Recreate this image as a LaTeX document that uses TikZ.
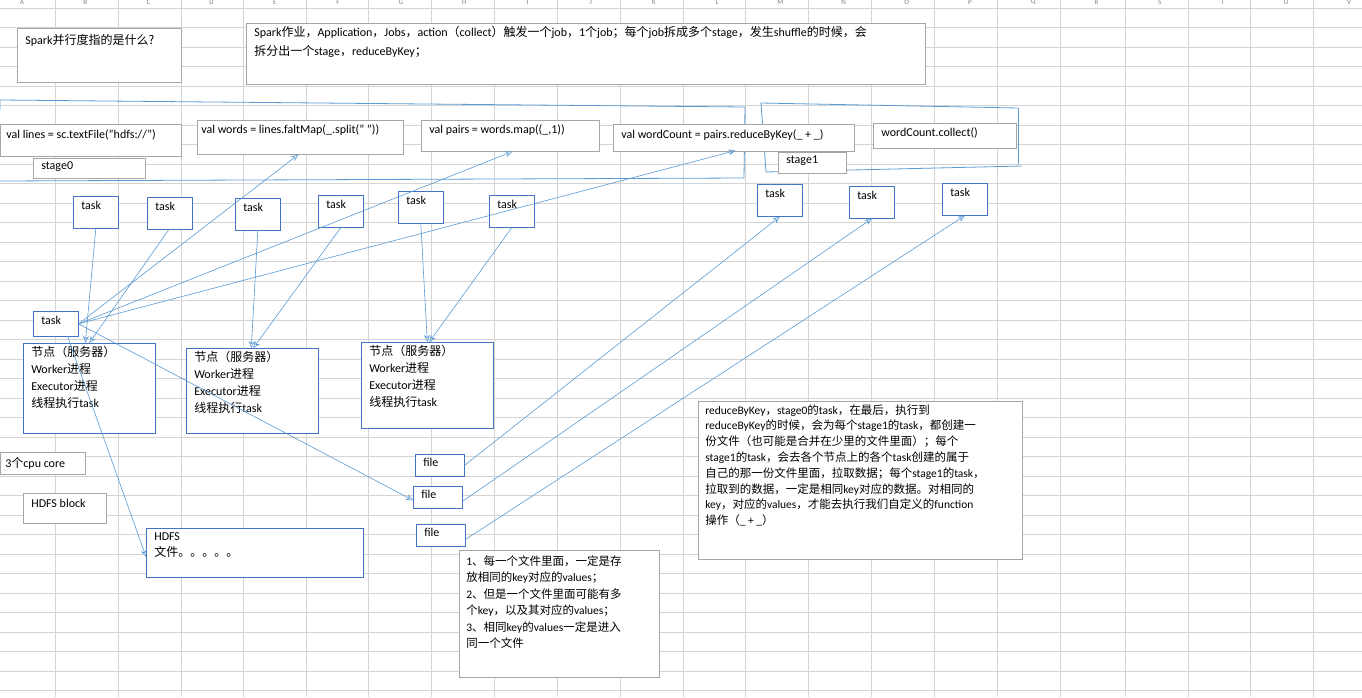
\documentclass[tikz,border=0pt]{standalone}
\usepackage{fontspec}
\setmainfont{Carlito}
\newfontfamily\cjk{Noto Sans CJK SC}
\usetikzlibrary{arrows.meta}
\definecolor{gridgray}{HTML}{D4D4D4}
\definecolor{boxgray}{HTML}{A6A6A6}
\definecolor{boxblue}{HTML}{4472C4}
\definecolor{linkblue}{HTML}{5B9BD5}
\tikzset{
  gbox/.style={draw=boxgray,fill=white,rectangle,anchor=north west,inner sep=0pt},
  bbox/.style={draw=boxblue,fill=white,rectangle,anchor=north west,inner sep=0pt},
  txt/.style={anchor=north west,inner sep=0pt,align=left,font=\fontsize{12}{15}\selectfont},
  link/.style={draw=linkblue,-{Stealth[open,length=7pt,width=6pt]}},
  bracket/.style={draw=linkblue,line width=0.8pt}
}
\begin{document}
\begin{tikzpicture}[x=1pt,y=-1pt,line width=0.6pt]
\useasboundingbox (0,0) rectangle (1362,697);
\fill[white] (0,0) rectangle (1362,697);

% sheet grid
\foreach \y in {8,27.5,...,697} \draw[gridgray,line width=0.5pt] (0,\y) -- (1362,\y);
\foreach \x in {55,118,181,243,306,368,431,494,557,620,683,745,808,871,934,997,1060,1125,1188,1250,1313}
  \draw[gridgray,line width=0.5pt] (\x,0) -- (\x,697);
\foreach \c [count=\i from 0] in {A,B,C,D,E,F,G,H,I,J,K,L,M,N,O,P,Q,R,S,T,U,V}
  \node[font=\fontsize{7}{7}\selectfont,gray,inner sep=0pt] (col\c) at (22+\i*63.2,2) {\c};

% stage brackets
\draw[bracket] (0,110) -- (0,100) -- (745,107) -- (744,178) -- (0,181);
\draw[bracket] (1018,108) -- (761,103) -- (766,172) -- (1022,166);
\draw[bracket] (1018,108) -- (1018,164);

% text boxes
\node[gbox,minimum width=164,minimum height=54] (q) at (17,28) {};
\node[txt] at ([shift={(8,6)}]q.north west) {Spark{\cjk 并行度指的是什么?}};
\node[gbox,minimum width=679,minimum height=61] (job) at (246,23) {};
\node[txt,font=\fontsize{12}{19}\selectfont] at ([shift={(8,3)}]job.north west) {Spark{\cjk 作业，}Application{\cjk ，}Jobs{\cjk ，}action{\cjk （}collect{\cjk ）触发一个}job{\cjk ，}1{\cjk 个}job{\cjk ；每个}job{\cjk 拆成多个}stage{\cjk ，发生}shuffle{\cjk 的时候，会}\\{\cjk 拆分出一个}stage{\cjk ，}reduceByKey{\cjk ；}};

\node[gbox,minimum width=181,minimum height=32] (lines) at (0,124) {};
\node[txt] at ([shift={(6,5)}]lines.north west) {val lines = sc.textFile("hdfs://")};
\node[gbox,minimum width=206,minimum height=34] (words) at (197,120) {};
\node[txt] at ([shift={(4,4)}]words.north west) {val words = lines.faltMap(\_.split(" "))};
\node[gbox,minimum width=178,minimum height=31] (pairs) at (421,120) {};
\node[txt] at ([shift={(8,4)}]pairs.north west) {val pairs = words.map((\_,1))};
\node[gbox,minimum width=241,minimum height=27] (wcount) at (613,124) {};
\node[txt] at ([shift={(8,5)}]wcount.north west) {val wordCount = pairs.reduceByKey(\_ + \_)};
\node[gbox,minimum width=143,minimum height=25] (collect) at (873,123) {};
\node[txt] at ([shift={(8,4)}]collect.north west) {wordCount.collect()};
\node[gbox,minimum width=112,minimum height=20] (stage0) at (33,158) {};
\node[txt] at ([shift={(8,3)}]stage0.north west) {stage0};
\node[gbox,minimum width=68,minimum height=21] (stage1) at (778,152) {};
\node[txt] at ([shift={(8,3)}]stage1.north west) {stage1};

% tasks of stage0
\foreach \n/\x/\y in {ta/73/196,tb/147/197,tc/235/198,td/318/195,te/398/191,tf/489/195}{
  \node[bbox,minimum width=45,minimum height=32] (\n) at (\x,\y) {};
  \node[txt] at ([shift={(8,5)}]\n.north west) {task};
}
\node[bbox,minimum width=45,minimum height=25] (tmain) at (33,311) {};
\node[txt] at ([shift={(8,5)}]tmain.north west) {task};

% tasks of stage1
\foreach \n/\x/\y in {sa/757/184,sb/849/186,sc/942/183}{
  \node[bbox,minimum width=45,minimum height=32] (\n) at (\x,\y) {};
  \node[txt] at ([shift={(8,5)}]\n.north west) {task};
}

% worker nodes
\foreach \n/\x/\y/\h in {wa/23/343/90,wb/186/348/85,wc/361/342/86}{
  \node[bbox,minimum width=132,minimum height=\h] (\n) at (\x,\y) {};
  \node[txt,font=\fontsize{12}{17}\selectfont] at ([shift={(8,3)}]\n.north west)
    {{\cjk 节点（服务器）}\\Worker{\cjk 进程}\\Executor{\cjk 进程}\\{\cjk 线程执行}task};
}

\node[gbox,minimum width=85,minimum height=22] (cpu) at (0,452) {};
\node[txt] at ([shift={(5,5)}]cpu.north west) {3{\cjk 个}cpu core};
\node[gbox,minimum width=83,minimum height=30] (block) at (23,493) {};
\node[txt] at ([shift={(8,6)}]block.north west) {HDFS block};
\node[bbox,minimum width=217,minimum height=49] (hdfs) at (146,528) {};
\node[txt,font=\fontsize{12}{16}\selectfont] at ([shift={(8,4)}]hdfs.north west) {HDFS\\{\cjk 文件。。。。。}};

% files
\foreach \n/\x/\y in {fa/415/454,fb/413/486,fc/416/524}{
  \node[bbox,minimum width=49,minimum height=22] (\n) at (\x,\y) {};
  \node[txt] at ([shift={(8,4)}]\n.north west) {file};
}

% notes
\node[gbox,minimum width=200,minimum height=127] (fnote) at (459,550) {};
\node[txt,font=\fontsize{11.5}{16.5}\selectfont] at ([shift={(7,5)}]fnote.north west)
  {1{\cjk 、每一个文件里面，一定是存}\\{\cjk 放相同的}key{\cjk 对应的}values{\cjk ；}\\2{\cjk 、但是一个文件里面可能有多}\\{\cjk 个}key{\cjk ，以及其对应的}values{\cjk ；}\\3{\cjk 、相同}key{\cjk 的}values{\cjk 一定是进入}\\{\cjk 同一个文件}};
\node[gbox,minimum width=324,minimum height=158] (rnote) at (698,401) {};
\node[txt,font=\fontsize{11.5}{15.8}\selectfont] at ([shift={(7,3)}]rnote.north west)
  {reduceByKey{\cjk ，}stage0{\cjk 的}task{\cjk ，在最后，执行到}\\reduceByKey{\cjk 的时候，会为每个}stage1{\cjk 的}task{\cjk ，都创建一}\\{\cjk 份文件（也可能是合并在少里的文件里面）；每个}\\stage1{\cjk 的}task{\cjk ，会去各个节点上的各个}task{\cjk 创建的属于}\\{\cjk 自己的那一份文件里面，拉取数据；每个}stage1{\cjk 的}task{\cjk ，}\\{\cjk 拉取到的数据，一定是相同}key{\cjk 对应的数据。对相同的}\\key{\cjk ，对应的}values{\cjk ，才能去执行我们自定义的}function\\{\cjk 操作（}\_ + \_{\cjk ）}};

% connectors
\draw[link] (ta.south) -- ([xshift=-4pt]wa.north);
\draw[link] ([xshift=-1pt]tb.south) -- ([xshift=0pt]wa.north);
\draw[link] (tc.south) -- ([xshift=-1pt]wb.north);
\draw[link] (td.south) -- ([xshift=1pt]wb.north);
\draw[link] (te.south) -- (wc.north);
\draw[link] (tf.south) -- ([xshift=2pt]wc.north);
\draw[link] (tmain.east) -- ([xshift=-2pt]words.south);
\draw[link] (tmain.east) -- ([xshift=2pt]pairs.south);
\draw[link] (tmain.east) -- ([xshift=-119pt,yshift=1pt]wcount.south east);
\draw[link] (tmain.east) -- ([yshift=-3pt]fb.west);
\draw[link] ([xshift=-11pt]tmain.south east) -- ([yshift=-4pt]hdfs.west);
\draw[link] (fa.east) -- (sa.south);
\draw[link] ([yshift=-4pt]fb.east) -- (sb.south);
\draw[link] ([yshift=-4pt]fc.east) -- (sc.south);
\end{tikzpicture}
\end{document}
